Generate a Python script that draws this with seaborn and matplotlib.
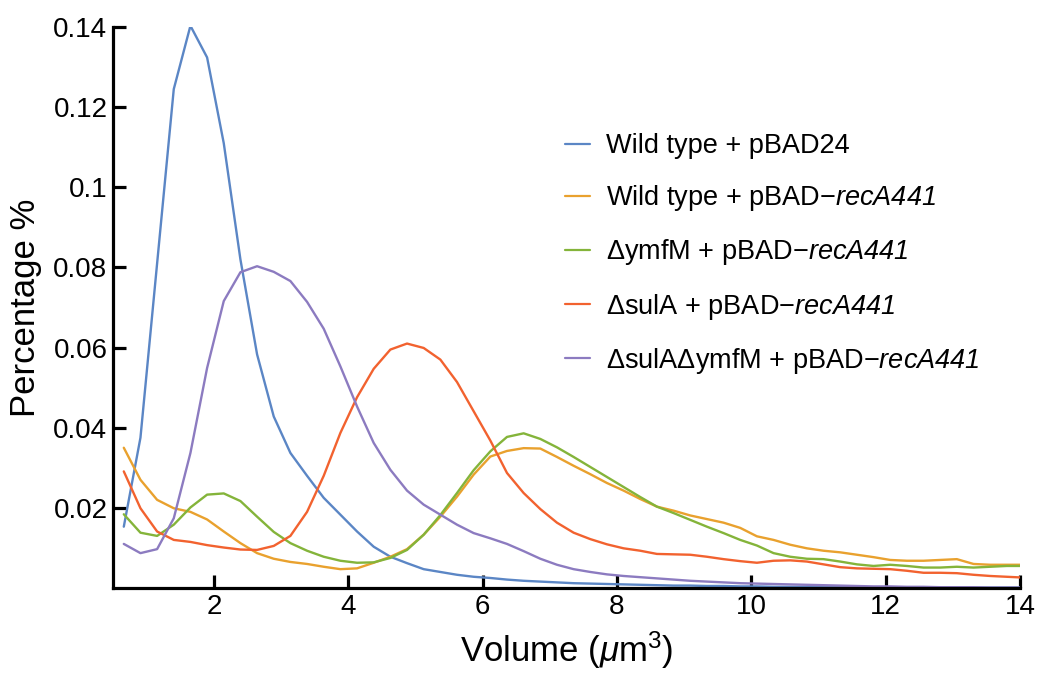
import numpy as np
import pandas as pd
import matplotlib
matplotlib.use("Agg")
import matplotlib.pyplot as plt
import seaborn as sns

volume = [0.660, 0.908, 1.156, 1.404, 1.652, 1.900, 2.148, 2.396, 2.644, 2.892,
          3.140, 3.388, 3.636, 3.884, 4.132, 4.380, 4.628, 4.876, 5.124, 5.372,
          5.620, 5.868, 6.116, 6.364, 6.612, 6.860, 7.108, 7.356, 7.604, 7.852,
          8.100, 8.348, 8.596, 8.844, 9.092, 9.340, 9.588, 9.836, 10.084, 10.332,
          10.580, 10.828, 11.076, 11.324, 11.572, 11.820, 12.068, 12.316, 12.564, 12.812,
          13.060, 13.308, 13.556, 13.804, 14.052]

wt_pbad24 = [0.0153, 0.0375, 0.081, 0.1245, 0.1403, 0.1324, 0.111, 0.082, 0.0583, 0.0428,
             0.0337, 0.028, 0.0225, 0.0183, 0.0141, 0.0103, 0.0078, 0.0062, 0.0047, 0.004,
             0.0033, 0.0028, 0.0025, 0.0021, 0.0018, 0.0016, 0.0014, 0.0012, 0.0011, 0.001,
             0.0009, 0.0008, 0.0007, 0.0006, 0.0006, 0.0005, 0.0005, 0.0004, 0.0004, 0.0003,
             0.0003, 0.0003, 0.0002, 0.0002, 0.0002, 0.0002, 0.0002, 0.0001, 0.0001, 0.0001,
             0.0001, 0.0001, 0.0001, 0.0001, 0.0001]

wt_rec = [0.035, 0.027, 0.022, 0.0199, 0.019, 0.0171, 0.0141, 0.0112, 0.0087, 0.0073,
          0.0065, 0.006, 0.0053, 0.0047, 0.0049, 0.0063, 0.0078, 0.0097, 0.0133, 0.0178,
          0.0228, 0.0283, 0.0328, 0.0342, 0.0349, 0.0348, 0.0327, 0.0305, 0.0284, 0.0262,
          0.0243, 0.0222, 0.0203, 0.0193, 0.0181, 0.0172, 0.0163, 0.015, 0.0129, 0.012,
          0.0108, 0.0099, 0.0093, 0.0089, 0.0083, 0.0077, 0.007, 0.0068, 0.0068, 0.007,
          0.0072, 0.006, 0.0058, 0.0058, 0.0058]

ymfm_rec = [0.0184, 0.0138, 0.013, 0.0158, 0.0201, 0.0233, 0.0236, 0.0217, 0.0178, 0.014,
            0.0112, 0.0093, 0.0078, 0.0068, 0.0063, 0.0064, 0.0075, 0.0095, 0.0133, 0.0182,
            0.0237, 0.0294, 0.0341, 0.0377, 0.0386, 0.0372, 0.0351, 0.0327, 0.0302, 0.0277,
            0.0252, 0.0227, 0.0203, 0.0187, 0.017, 0.0153, 0.0137, 0.012, 0.0106, 0.0087,
            0.0078, 0.0073, 0.0072, 0.0066, 0.0059, 0.0055, 0.0058, 0.0055, 0.0051, 0.0051,
            0.0053, 0.0051, 0.0053, 0.0055, 0.0055]

sula_rec = [0.0291, 0.0199, 0.0141, 0.012, 0.0115, 0.0107, 0.0101, 0.0096, 0.0095, 0.0105,
            0.013, 0.019, 0.028, 0.0387, 0.0476, 0.0547, 0.0595, 0.061, 0.0599, 0.057,
            0.0514, 0.0441, 0.0368, 0.0287, 0.0237, 0.0197, 0.0163, 0.0138, 0.0122, 0.0109,
            0.0099, 0.0093, 0.0085, 0.0084, 0.0083, 0.0078, 0.0072, 0.0067, 0.0063, 0.0068,
            0.0069, 0.0066, 0.0059, 0.0052, 0.0049, 0.0048, 0.0047, 0.0043, 0.0038, 0.0038,
            0.0037, 0.0033, 0.003, 0.0028, 0.0026]

sula_ymfm_rec = [0.011, 0.0087, 0.0097, 0.0174, 0.0337, 0.0549, 0.0716, 0.0788, 0.0803, 0.0789,
                 0.0766, 0.0714, 0.0647, 0.0553, 0.0453, 0.0362, 0.0295, 0.0243, 0.0208, 0.0183,
                 0.0158, 0.0137, 0.0124, 0.011, 0.0092, 0.0073, 0.0058, 0.0047, 0.004, 0.0034,
                 0.003, 0.0027, 0.0024, 0.0021, 0.0018, 0.0016, 0.0014, 0.0012, 0.0011, 0.001,
                 0.0009, 0.0008, 0.0007, 0.0006, 0.0005, 0.0004, 0.0004, 0.0003, 0.0003, 0.0002,
                 0.0002, 0.0002, 0.0001, 0.0001, 0.0001]

labels = ["Wild type + pBAD24",
          "Wild type + pBAD\u2212$\\mathit{recA441}$",
          "\u0394ymfM + pBAD\u2212$\\mathit{recA441}$",
          "\u0394sulA + pBAD\u2212$\\mathit{recA441}$",
          "\u0394sulA\u0394ymfM + pBAD\u2212$\\mathit{recA441}$"]
series = [wt_pbad24, wt_rec, ymfm_rec, sula_rec, sula_ymfm_rec]
colors = ["#5B86C5", "#E9A12E", "#84B43A", "#F2622F", "#8C7BC0"]

x_ticks = [2, 4, 6, 8, 10, 12, 14]
y_ticks = [0.02, 0.04, 0.06, 0.08, 0.10, 0.12, 0.14]
y_tick_labels = ["0.02", "0.04", "0.06", "0.08", "0.1", "0.12", "0.14"]

df = pd.concat([pd.DataFrame({"Volume": volume, "Pct": s, "Strain": lab})
                for s, lab in zip(series, labels)], ignore_index=True)

sns.set_theme(style="ticks")
plt.rcParams["font.family"] = ["Liberation Sans", "DejaVu Sans"]
plt.rcParams["mathtext.fontset"] = "custom"
# digits inside math italic are drawn with the "rm" font, so make it italic
plt.rcParams["mathtext.rm"] = "Liberation Sans:italic"
plt.rcParams["mathtext.it"] = "Liberation Sans:italic"
plt.rcParams["mathtext.sf"] = "Liberation Sans"
plt.rcParams["mathtext.bf"] = "Liberation Sans:bold"
plt.rcParams["text.color"] = "black"
plt.rcParams["axes.labelcolor"] = "black"

fig = plt.figure(figsize=(10.39, 6.73), dpi=100)
ax = fig.add_axes([0.1088, 0.1263, 0.8729, 0.8336])

sns.lineplot(data=df, x="Volume", y="Pct", hue="Strain", hue_order=labels,
             palette=dict(zip(labels, colors)), linewidth=1.7,
             estimator=None, sort=False, ax=ax)

ax.set_xlim(0.5, 14)
ax.set_ylim(0, 0.14)
ax.set_xticks(x_ticks)
ax.set_xticklabels([str(t) for t in x_ticks])
ax.set_yticks(y_ticks)
ax.set_yticklabels(y_tick_labels)

for side in ["top", "right"]:
    ax.spines[side].set_visible(False)
for side in ["left", "bottom"]:
    ax.spines[side].set_linewidth(2.3)
    ax.spines[side].set_color("black")

ax.tick_params(axis="both", direction="in", length=9.5, width=2.3,
               labelsize=20, colors="black", pad=4)
ax.set_xlabel("Volume ($\\mu$m$^{\\mathsf{3}}$)", fontsize=25, labelpad=7)
ax.set_ylabel("Percentage %", fontsize=25, labelpad=8)

leg = ax.legend(loc="upper left", bbox_to_anchor=(0.4867, 0.83), frameon=False,
                fontsize=19.5, handlelength=0.9, handletextpad=0.6,
                labelspacing=0.89, borderaxespad=0)
for line in leg.get_lines():
    line.set_linewidth(1.6)

fig.savefig("out.png", dpi=100)
